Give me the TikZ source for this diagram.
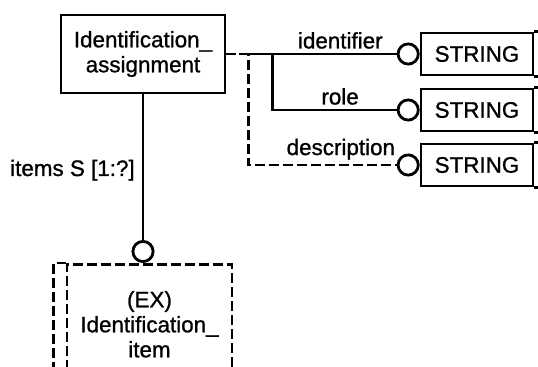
\documentclass[tikz,border=0pt]{standalone}
\usepackage{fontspec}
\setmainfont{Liberation Sans}[FakeBold=1]
\usetikzlibrary{arrows.meta}

\begin{document}
\begin{tikzpicture}[
  x=0.5pt, y=-0.5pt,
  line width=1.3pt,
  font=\fontsize{11.2}{12.5}\selectfont,
  entity/.style={rectangle, draw, line width=1.3pt, align=center, inner sep=0pt},
  simple/.style={rectangle, draw, line width=1.3pt, minimum width=56pt, minimum height=21pt, inner sep=0pt},
  opt/.style={dash pattern=on 5pt off 2pt},
  rel/.style={-{Circle[open, length=11.5pt, width=11.5pt, line width=1.4pt]}},
  attr/.style={above, inner sep=2pt},
  node distance=28pt
]
\useasboundingbox (0,0) rectangle (538,367);

\node[entity, minimum width=82pt, minimum height=39pt] (assign) at (143,54) {Identification\_\\assignment};
\node[entity, opt, minimum width=82.5pt, minimum height=60pt, anchor=north] (item) at (149.5,263) {(EX)\\Identification\_\\item};
\draw[opt] ([xshift=-6pt]item.south west) -- ([xshift=-6pt]item.north west) -- (item.north west);

\node[simple] (str1) at (477,54) {STRING};
\node[simple, below of=str1] (str2) {STRING};
\node[simple, below of=str2, node distance=27.5pt] (str3) {STRING};
\foreach \s in {str1,str2,str3}
  \draw (\s.north east) -- ++(8pt,0) |- (\s.south east);

\coordinate (split) at ([xshift=6.5pt]assign.east);

\draw[rel] (assign.south) -- node[left, pos=0.45, inner sep=3.5pt] {items S [1:?]} (assign.south |- item.north);
\draw[rel, opt] (assign.east) -- ++(11pt,0) |- node[attr, pos=0.77] {description} (str3.west);
\draw[rel] ([xshift=23pt]assign.east) |- node[attr, pos=0.73] {role} (str2.west);
\draw[rel] (split) -- node[attr, pos=0.56] {identifier} (str1.west);
\end{tikzpicture}
\end{document}
